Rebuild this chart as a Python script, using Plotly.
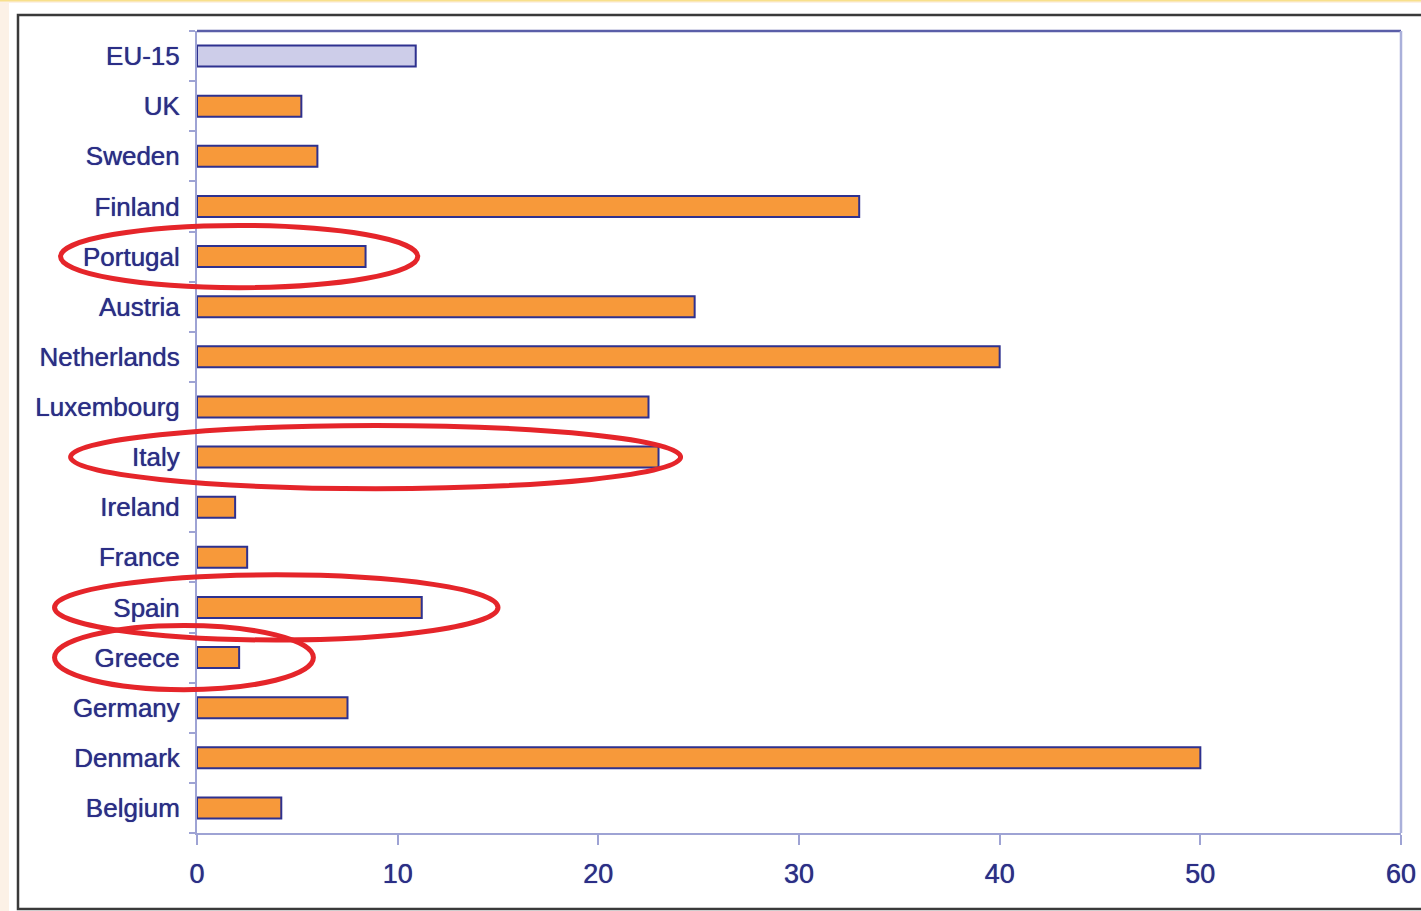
import plotly.graph_objects as go

# Countries listed bottom-to-top as they appear on the category axis
countries = ["Belgium", "Denmark", "Germany", "Greece", "Spain", "France", "Ireland",
             "Italy", "Luxembourg", "Netherlands", "Austria", "Portugal", "Finland",
             "Sweden", "UK", "EU-15"]
values = [4.2, 50.0, 7.5, 2.1, 11.2, 2.5, 1.9,
          23.0, 22.5, 40.0, 24.8, 8.4, 33.0,
          6.0, 5.2, 10.9]
x_ticks = [0, 10, 20, 30, 40, 50, 60]

# Highlighted countries: (name, left edge in data units, right edge, half-height in category units)
highlights = [("Portugal", -6.8, 11.0, 0.62),
              ("Italy", -6.3, 24.1, 0.63),
              ("Spain", -7.1, 15.0, 0.65),
              ("Greece", -7.1, 5.8, 0.64)]

ORANGE = "#f7993a"
LAVENDER = "#cdcde9"
NAVY = "#2e318f"
TEXT = "#2b2e86"
AXIS = "#9ea3d4"

bar_colors = [LAVENDER if c == "EU-15" else ORANGE for c in countries]

fig = go.Figure(go.Bar(
    x=values, y=countries, orientation="h",
    marker=dict(color=bar_colors, line=dict(color=NAVY, width=2)),
    hoverinfo="x+y",
))

xmin, xmax = 0, 60
n = len(countries)

def xp(v):
    return (v - xmin) / (xmax - xmin)

# Pixel geometry of the plot area within the 1421x911 page
W, H = 1421, 911
L, R, T, B = 197, 20, 31, 78
pw, ph = W - L - R, H - T - B

def px_x(px):
    return (px - L) / pw

def px_y(py):
    return (H - B - py) / ph

shapes = [
    # white card with dark frame
    dict(type="rect", xref="paper", yref="paper", layer="below",
         x0=px_x(9), x1=px_x(W + 5), y0=px_y(H + 5), y1=px_y(3),
         fillcolor="white", line=dict(width=0)),
    dict(type="rect", xref="paper", yref="paper", layer="below",
         x0=px_x(18), x1=px_x(W + 20), y0=px_y(909), y1=px_y(15),
         fillcolor="rgba(0,0,0,0)", line=dict(color="#3a3a3a", width=2.5)),
    # thin yellow rule along the top edge
    dict(type="line", xref="paper", yref="paper", layer="below",
         x0=px_x(0), x1=px_x(W), y0=px_y(0.5), y1=px_y(0.5),
         line=dict(color="#f8e08c", width=2)),
    # top and right frame of the plot area
    dict(type="line", xref="paper", yref="paper",
         x0=0, x1=1, y0=1, y1=1, line=dict(color="#5a5ea8", width=2.5)),
    dict(type="line", xref="paper", yref="paper",
         x0=1, x1=1, y0=0, y1=1, line=dict(color="#aab0da", width=2.5)),
]

for name, a, b, hh in highlights:
    i = countries.index(name)
    shapes.append(dict(type="circle", xref="paper", yref="paper",
                       x0=xp(a), x1=xp(b),
                       y0=(i + 0.5 - hh) / n, y1=(i + 0.5 + hh) / n,
                       line=dict(color="#e5252a", width=5),
                       fillcolor="rgba(0,0,0,0)"))

label_shadow = "0 0 0.8px " + TEXT

fig.update_layout(
    width=W, height=H,
    margin=dict(l=L, r=R, t=T, b=B, autoexpand=False),
    paper_bgcolor="#fcf1e6",
    plot_bgcolor="white",
    bargap=0.58,
    showlegend=False,
    font=dict(family="Liberation Sans, Arial, sans-serif", color=TEXT),
    shapes=shapes,
)

fig.update_xaxes(
    range=[xmin, xmax], tickvals=x_ticks, ticktext=[str(t) for t in x_ticks],
    showgrid=False, zeroline=False, automargin=False,
    showline=True, linecolor=AXIS, linewidth=2,
    ticks="outside", ticklen=10, tickwidth=2, tickcolor=AXIS,
    tickfont=dict(size=27, color=TEXT, shadow=label_shadow), ticklabelstandoff=6,
)

fig.update_yaxes(
    categoryorder="array", categoryarray=countries,
    range=[-0.5, n - 0.5],
    showgrid=False, zeroline=False, automargin=False,
    showline=True, linecolor=AXIS, linewidth=2,
    ticks="outside", tickson="boundaries", ticklen=6, tickwidth=2, tickcolor=AXIS,
    tickfont=dict(size=26, color=TEXT, shadow=label_shadow), ticklabelstandoff=10,
)

fig.write_html("out.html")
